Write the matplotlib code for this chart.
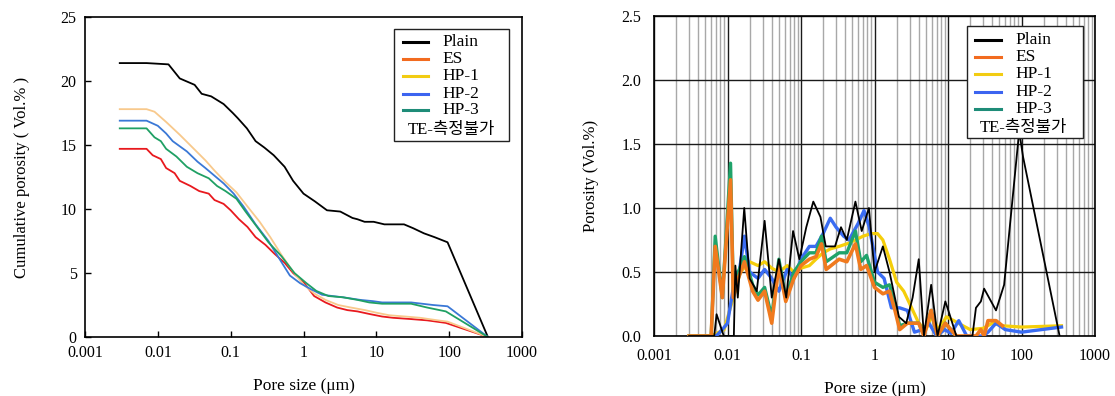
import matplotlib
matplotlib.use("Agg")
import matplotlib.pyplot as plt
from matplotlib.ticker import FixedLocator, FuncFormatter, NullLocator, LogLocator
from matplotlib.lines import Line2D
from matplotlib.patches import Rectangle

plt.rcParams['font.family'] = ['Liberation Serif', 'Noto Sans CJK KR']

# ---------------- Left: cumulative porosity ----------------
plain_x = [0.003, 0.007, 0.014, 0.02, 0.032, 0.04, 0.054, 0.08, 0.107, 0.125, 0.167, 0.22, 0.29, 0.39,
           0.55, 0.72, 1.0, 1.43, 2.1, 3.2, 4.7, 5.5, 6.9, 9.2, 12.9, 24, 32, 45, 63, 95, 340]
plain_y = [21.4, 21.4, 21.3, 20.2, 19.7, 19.0, 18.8, 18.2, 17.5, 17.1, 16.3, 15.3, 14.8, 14.2,
           13.3, 12.2, 11.2, 10.6, 9.9, 9.8, 9.3, 9.2, 9.0, 9.0, 8.8, 8.8, 8.5, 8.1, 7.8, 7.4, 0.0]

es_x = [0.003, 0.007, 0.0085, 0.011, 0.013, 0.017, 0.02, 0.028, 0.037, 0.05, 0.06, 0.08, 0.1, 0.13,
        0.17, 0.22, 0.3, 0.4, 0.55, 0.72, 1.0, 1.4, 2.0, 2.9, 4.0, 5.5, 8, 12, 17, 30, 50, 90, 340]
es_y = [14.7, 14.7, 14.2, 13.9, 13.2, 12.8, 12.2, 11.8, 11.4, 11.2, 10.7, 10.4, 9.9, 9.2,
        8.6, 7.8, 7.2, 6.5, 5.8, 5.0, 4.3, 3.2, 2.7, 2.3, 2.1, 2.0, 1.8, 1.6, 1.5, 1.4, 1.3, 1.1, 0.0]

hp1_x = [0.003, 0.007, 0.009, 0.013, 0.02, 0.03, 0.045, 0.06, 0.085, 0.12, 0.17, 0.25, 0.35, 0.5,
         0.7, 1.0, 1.4, 2.0, 3.0, 4.5, 7, 10, 15, 25, 40, 70, 95, 340]
hp1_y = [17.8, 17.8, 17.6, 16.8, 15.8, 14.8, 13.8, 13.0, 12.1, 11.3, 10.2, 9.0, 7.8, 6.4,
         5.2, 4.1, 3.4, 2.9, 2.5, 2.3, 2.1, 1.9, 1.7, 1.6, 1.5, 1.3, 1.2, 0.0]

hp2_x = [0.003, 0.007, 0.01, 0.013, 0.016, 0.025, 0.035, 0.045, 0.06, 0.08, 0.11, 0.15, 0.22, 0.33,
         0.48, 0.65, 0.9, 1.3, 1.8, 2.5, 3.5, 6, 9, 12, 30, 60, 95, 340]
hp2_y = [16.9, 16.9, 16.5, 15.9, 15.3, 14.5, 13.7, 13.2, 12.6, 12.0, 11.2, 10.2, 8.8, 7.5,
         6.0, 4.8, 4.2, 3.7, 3.3, 3.2, 3.1, 2.9, 2.8, 2.7, 2.7, 2.5, 2.4, 0.0]

hp3_x = [0.003, 0.007, 0.009, 0.011, 0.013, 0.018, 0.025, 0.035, 0.05, 0.065, 0.085, 0.12, 0.16, 0.23,
         0.33, 0.5, 0.75, 1.1, 1.5, 2.2, 3.5, 5.5, 8, 12, 30, 50, 90, 340]
hp3_y = [16.3, 16.3, 15.6, 15.3, 14.7, 14.1, 13.3, 12.8, 12.4, 11.8, 11.4, 10.8, 9.8, 8.6,
         7.4, 6.3, 5.0, 4.2, 3.6, 3.2, 3.1, 2.9, 2.7, 2.6, 2.6, 2.3, 2.0, 0.0]

# ---------------- Right: differential porosity ----------------
d_plain_x = [0.003, 0.0066, 0.0071, 0.0089, 0.0122, 0.0128, 0.0138, 0.0169, 0.0200, 0.0250, 0.032,
             0.040, 0.050, 0.063, 0.078, 0.095, 0.118, 0.147, 0.184, 0.217, 0.29, 0.35, 0.42,
             0.55, 0.67, 0.84, 1.0, 1.3, 1.6, 2.15, 2.7, 3.3, 4.0, 4.7, 5.9, 7.2, 9.2, 10.5, 13,
             21.5, 24, 28, 31, 45, 58, 93, 105, 330]
d_plain_y = [0.0, 0.0, 0.17, 0.0, 0.0, 0.55, 0.3, 1.0, 0.45, 0.35, 0.9,
             0.3, 0.6, 0.3, 0.82, 0.6, 0.85, 1.05, 0.93, 0.7, 0.7, 0.85, 0.75,
             1.05, 0.82, 1.0, 0.5, 0.7, 0.5, 0.15, 0.1, 0.3, 0.6, 0.0, 0.4, 0.0, 0.27, 0.17, 0.0,
             0.0, 0.22, 0.27, 0.37, 0.2, 0.4, 1.6, 1.4, 0.0]

d_es_x = [0.003, 0.006, 0.0068, 0.0085, 0.011, 0.012, 0.014, 0.017, 0.022, 0.026, 0.032, 0.040,
          0.050, 0.062, 0.080, 0.10, 0.13, 0.16, 0.19, 0.22, 0.33, 0.42, 0.55, 0.65, 0.78, 1.0,
          1.3, 1.6, 1.9, 2.2, 2.8, 4.0, 4.7, 5.9, 7.2, 9.2, 13, 24, 28, 31, 35, 45, 55]
d_es_y = [0.0, 0.0, 0.70, 0.30, 1.22, 0.30, 0.45, 0.58, 0.35, 0.28, 0.35, 0.10,
          0.55, 0.27, 0.45, 0.55, 0.60, 0.62, 0.72, 0.52, 0.60, 0.58, 0.72, 0.52, 0.55, 0.38,
          0.33, 0.35, 0.20, 0.05, 0.10, 0.10, 0.0, 0.20, 0.0, 0.10, 0.0, 0.0, 0.05, 0.0, 0.12, 0.12, 0.08]

d_hp1_x = [0.003, 0.006, 0.009, 0.012, 0.015, 0.020, 0.026, 0.032, 0.040, 0.050, 0.065, 0.080,
           0.10, 0.13, 0.16, 0.20, 0.25, 0.33, 0.42, 0.55, 0.70, 0.90, 1.1, 1.3, 1.6, 2.0, 2.5,
           3.2, 4.0, 5.0, 6.0, 7.5, 9.5, 12, 16, 20, 30, 40, 55, 100, 350]
d_hp1_y = [0.0, 0.0, 0.05, 0.30, 0.50, 0.58, 0.55, 0.58, 0.53, 0.50, 0.55, 0.50,
           0.53, 0.55, 0.60, 0.65, 0.68, 0.70, 0.72, 0.75, 0.78, 0.80, 0.80, 0.75, 0.60, 0.42, 0.35,
           0.22, 0.10, 0.05, 0.15, 0.05, 0.15, 0.12, 0.08, 0.05, 0.06, 0.10, 0.08, 0.07, 0.08]

d_hp2_x = [0.007, 0.0085, 0.010, 0.013, 0.014, 0.017, 0.020, 0.026, 0.032, 0.040, 0.050, 0.065,
           0.080, 0.10, 0.13, 0.16, 0.20, 0.25, 0.30, 0.38, 0.45, 0.60, 0.72, 0.85, 1.1, 1.35,
           1.7, 2.2, 2.8, 3.5, 4.5, 5.5, 7.0, 9.0, 11, 14, 18, 30, 35, 45, 60, 100, 350]
d_hp2_y = [0.0, 0.05, 0.10, 0.50, 0.45, 0.78, 0.50, 0.45, 0.52, 0.45, 0.35, 0.52,
           0.45, 0.60, 0.70, 0.70, 0.80, 0.92, 0.85, 0.78, 0.75, 0.88, 0.98, 0.85, 0.50, 0.45,
           0.22, 0.22, 0.20, 0.03, 0.05, 0.10, 0.0, 0.05, 0.02, 0.12, 0.0, 0.0, 0.03, 0.10, 0.05, 0.03, 0.07]

d_hp3_x = [0.003, 0.006, 0.0068, 0.0085, 0.011, 0.012, 0.014, 0.017, 0.022, 0.026, 0.032, 0.040,
           0.050, 0.062, 0.080, 0.10, 0.13, 0.16, 0.19, 0.22, 0.33, 0.42, 0.55, 0.65, 0.78, 1.0,
           1.3, 1.6, 1.9, 2.2, 2.8, 4.0, 4.7, 5.9, 7.2, 9.2, 13]
d_hp3_y = [0.0, 0.0, 0.78, 0.30, 1.35, 0.35, 0.50, 0.62, 0.40, 0.32, 0.38, 0.15,
           0.60, 0.30, 0.50, 0.58, 0.65, 0.65, 0.78, 0.58, 0.65, 0.65, 0.82, 0.58, 0.63, 0.42,
           0.38, 0.40, 0.25, 0.08, 0.10, 0.10, 0.02, 0.20, 0.0, 0.10, 0.0]

labels = ['Plain', 'ES', 'HP-1', 'HP-2', 'HP-3']
note = 'TE-측정불가'
x_ticks = [0.001, 0.01, 0.1, 1, 10, 100, 1000]
left_yticks = [0, 5, 10, 15, 20, 25]
right_yticks = [0.0, 0.5, 1.0, 1.5, 2.0, 2.5]

# colours
left_colors = ['#000000', '#E8191E', '#F8C98C', '#3A78D6', '#1FA064']
legend_colors = ['#000000', '#F26B1F', '#F2CC12', '#3C64F0', '#1E8C78']
right_colors = ['#000000', '#F07A1E', '#F5CE0A', '#3A6CF2', '#1FA36A']

fig = plt.figure(figsize=(11.15, 3.96), dpi=100)
axL = fig.add_axes([85/1115, 1-337/396, 437/1115, 320/396])
axR = fig.add_axes([654/1115, 1-336/396, 441/1115, 320/396])

fmt = FuncFormatter(lambda v, p: '%g' % v)

# Left
for (xs, ys), c in zip([(plain_x, plain_y), (es_x, es_y), (hp1_x, hp1_y), (hp2_x, hp2_y), (hp3_x, hp3_y)],
                       left_colors):
    axL.plot(xs, ys, color=c, lw=1.3)
axL.set_xscale('log')
axL.set_xlim(0.001, 1000)
axL.set_ylim(0, 25)
axL.xaxis.set_major_locator(FixedLocator(x_ticks))
axL.xaxis.set_major_formatter(fmt)
axL.xaxis.set_minor_locator(NullLocator())
axL.set_yticks(left_yticks)
axL.tick_params(axis='both', direction='in', length=4, width=1, labelsize=11.5, pad=6)
for s in axL.spines.values():
    s.set_linewidth(1.2)
axL.set_xlabel('Pore size (μm)', fontsize=12.5, labelpad=12)
axL.set_ylabel('Cumulative porosity ( Vol.% )', fontsize=12, labelpad=22)

# Right
series_r = [(d_plain_x, d_plain_y, right_colors[0], 1.3, 6),
            (d_hp1_x, d_hp1_y, right_colors[2], 2.3, 2),
            (d_hp2_x, d_hp2_y, right_colors[3], 2.4, 3),
            (d_hp3_x, d_hp3_y, right_colors[4], 2.4, 4),
            (d_es_x, d_es_y, right_colors[1], 2.6, 5)]
for xs, ys, c, lw, z in series_r:
    axR.plot(xs, ys, color=c, lw=lw, zorder=z)
axR.set_xscale('log')
axR.set_xlim(0.001, 1000)
axR.set_ylim(0, 2.5)
axR.xaxis.set_major_locator(FixedLocator(x_ticks))
axR.xaxis.set_major_formatter(fmt)
axR.xaxis.set_minor_locator(LogLocator(base=10, subs=range(2, 10)))
axR.set_yticks(right_yticks)
axR.yaxis.set_major_formatter(FuncFormatter(lambda v, p: '%.1f' % v))
axR.grid(True, which='minor', axis='x', color='#a8a8a8', lw=1.0, zorder=0)
axR.grid(True, which='major', axis='x', color='#1a1a1a', lw=1.0, zorder=1)
axR.grid(True, which='major', axis='y', color='#1a1a1a', lw=1.0, zorder=1)
axR.set_axisbelow(True)
axR.tick_params(axis='both', which='both', length=0, labelsize=11.5, pad=9)
for s in axR.spines.values():
    s.set_linewidth(1.2)
axR.set_xlabel('Pore size (μm)', fontsize=12.5, labelpad=12)
axR.set_ylabel('Porosity (Vol.%)', fontsize=12, labelpad=16)


def draw_legend(ax, x0, y0, x1, y1, hx0, hx1, tx, ys, note_x, note_y):
    # coordinates given in figure pixels (top-left origin)
    W, H = 1115, 396
    bb = ax.get_position()
    def to_ax(px, py):
        fx, fy = px / W, 1 - py / H
        return (fx - bb.x0) / bb.width, (fy - bb.y0) / bb.height
    ax0, ay0 = to_ax(x0, y1)
    ax1, ay1 = to_ax(x1, y0)
    ax.add_patch(Rectangle((ax0, ay0), ax1 - ax0, ay1 - ay0, transform=ax.transAxes,
                           facecolor='white', edgecolor='#222222', lw=1.0, zorder=20))
    for lab, c, py in zip(labels, legend_colors, ys):
        a, yy = to_ax(hx0, py)
        b, _ = to_ax(hx1, py)
        ax.add_line(Line2D([a, b], [yy, yy], transform=ax.transAxes, color=c, lw=2.2, zorder=21))
        t, _ = to_ax(tx, py)
        ax.text(t, yy, lab, transform=ax.transAxes, fontsize=12.5, va='center', ha='left', zorder=22)
    a, yy = to_ax(note_x, note_y)
    ax.text(a, yy, note, transform=ax.transAxes, fontsize=12, va='center', ha='left', zorder=22,
            family=['Liberation Serif', 'Noto Sans CJK KR'])


draw_legend(axL, 394, 29, 509, 141, 403, 428, 442, [41.7, 59.3, 76.3, 93.7, 110.3], 408, 130)
draw_legend(axR, 967, 26, 1083, 138, 975, 1001, 1015, [40, 56.7, 74, 91.7, 109], 980, 128)

fig.savefig('out.png', dpi=100, facecolor='white')
